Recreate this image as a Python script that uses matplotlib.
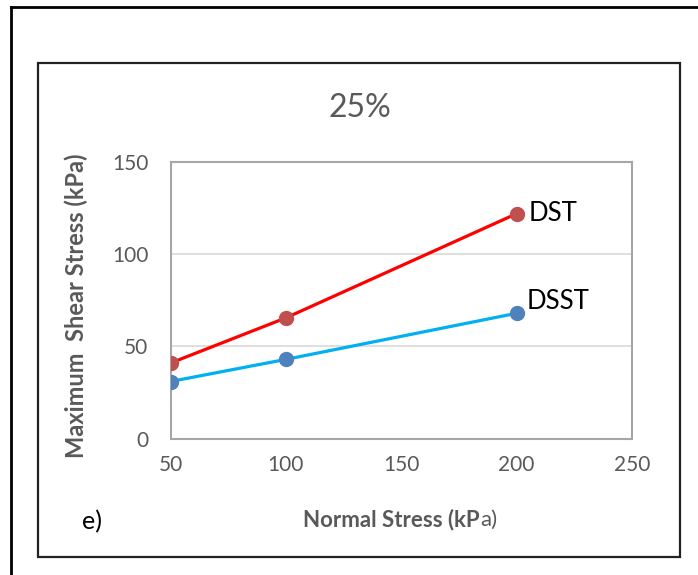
import matplotlib.pyplot as plt
from matplotlib.patches import Rectangle
from matplotlib.lines import Line2D

plt.rcParams['font.family'] = ['Lato', 'DejaVu Sans']

# data
normal_stress = [50, 100, 200]
dst_shear = [41, 65.5, 122]
dsst_shear = [31, 43, 68]
series_names = ['DST', 'DSST']
x_ticks = [50, 100, 150, 200, 250]
y_ticks = [0, 50, 100, 150]

W, H = 698, 575
fig = plt.figure(figsize=(W / 100, H / 100), dpi=100)

# figure coords helper (pixels from top-left)
def fx(px):
    return px / W

def fy(py):
    return 1 - py / H

# outer frame (left and top edges only visible)
fig.add_artist(Line2D([fx(11), fx(11)], [fy(575), fy(7)], color='black', lw=2))
fig.add_artist(Line2D([fx(11), fx(698)], [fy(7), fy(7)], color='black', lw=2))
# chart area frame
fig.add_artist(Rectangle((fx(38), fy(557)), fx(680) - fx(38), fy(63) - fy(557),
                         fill=False, edgecolor='#222222', lw=1.6))

ax = fig.add_axes([fx(170.5), fy(438.7), fx(632) - fx(170.5), fy(162) - fy(438.7)])

ax.plot(normal_stress, dst_shear, color='#FF0000', lw=2.3, zorder=2)
ax.plot(normal_stress, dst_shear, 'o', color='#C0504D', ms=10, zorder=3)
ax.plot(normal_stress, dsst_shear, color='#00B0F0', lw=2.3, zorder=2)
ax.plot(normal_stress, dsst_shear, 'o', color='#4F81BD', ms=10, zorder=3)

ax.text(normal_stress[-1] + 5, dst_shear[-1], series_names[0], fontsize=18.5,
        va='center', ha='left', color='black')
ax.text(normal_stress[-1] + 4.5, dsst_shear[-1] + 6.5, series_names[1], fontsize=18.5,
        va='center', ha='left', color='black')

ax.set_xlim(50, 250)
ax.set_ylim(0, 150)
ax.set_xticks(x_ticks)
ax.set_yticks(y_ticks)
ax.tick_params(length=0, labelsize=15, labelcolor='#595959')
ax.tick_params(axis='x', pad=12)
ax.tick_params(axis='y', pad=16)
for s in ax.spines.values():
    s.set_color('#A6A6A6')
    s.set_linewidth(1.5)
ax.yaxis.grid(True, color='#D9D9D9', lw=1.2)
ax.set_axisbelow(True)

fig.text(fx(360), fy(108), '25%', fontsize=23, color='#595959', ha='center', va='center')
fig.text(fx(76), fy(306), 'Maximum  Shear Stress (kPa)', fontsize=17, fontweight='bold',
         color='#595959', rotation=90, ha='center', va='center')
fig.text(fx(480), fy(520), 'Normal Stress (kP', fontsize=16, fontweight='bold',
         color='#595959', ha='right', va='center')
fig.text(fx(480), fy(520), 'a)', fontsize=16, color='#595959', ha='left', va='center')
fig.text(fx(82), fy(522), 'e)', fontsize=18, color='black', ha='left', va='center')

fig.savefig('out.png', dpi=100)
